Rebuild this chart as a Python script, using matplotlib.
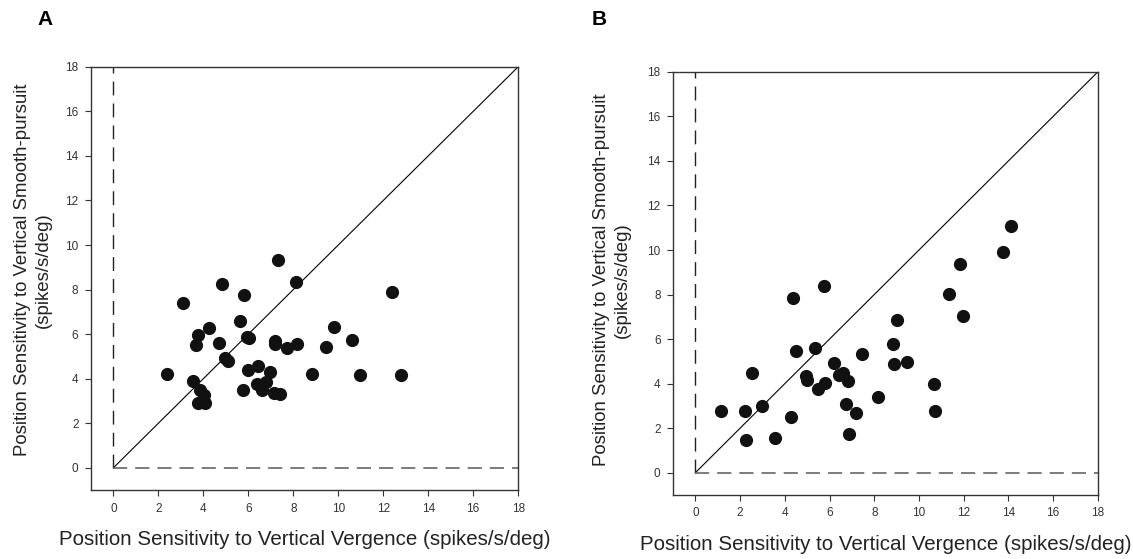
import matplotlib.pyplot as plt

plt.rcParams['font.family'] = ['Liberation Sans', 'DejaVu Sans']

# Panel A: vergence vs smooth-pursuit position sensitivity (spikes/s/deg)
a_verg = [7.32, 4.82, 8.13, 12.37, 3.09, 5.79, 5.62, 4.26, 3.74, 3.67,
          4.69, 5.94, 6.05, 7.17, 7.20, 7.70, 8.15, 9.81, 9.47, 10.61,
          4.96, 5.09, 2.39, 3.56, 5.97, 6.45, 6.97, 8.83, 10.98, 12.79,
          6.38, 6.78, 6.60, 5.74, 3.86, 4.02, 7.12, 7.39, 3.74, 4.09]
a_pursuit = [9.31, 8.27, 8.34, 7.91, 7.40, 7.75, 6.57, 6.27, 5.96, 5.52,
             5.61, 5.87, 5.84, 5.69, 5.57, 5.39, 5.55, 6.32, 5.40, 5.73,
             4.92, 4.78, 4.21, 3.89, 4.39, 4.57, 4.30, 4.19, 4.16, 4.16,
             3.77, 3.83, 3.50, 3.47, 3.50, 3.26, 3.35, 3.29, 2.90, 2.89]

# Panel B
b_verg = [14.12, 13.75, 11.85, 11.35, 11.97, 5.75, 4.37, 9.02, 8.86, 8.89,
          9.45, 4.50, 5.33, 7.45, 6.19, 2.55, 4.96, 4.98, 5.78, 5.50,
          6.41, 6.58, 6.83, 10.65, 8.15, 6.73, 7.17, 10.71, 1.16, 2.22,
          2.98, 4.28, 2.27, 3.57, 6.86]
b_pursuit = [11.09, 9.89, 9.37, 8.01, 7.03, 8.38, 7.86, 6.84, 5.79, 4.90,
             4.98, 5.47, 5.62, 5.31, 4.93, 4.47, 4.35, 4.17, 4.05, 3.74,
             4.40, 4.47, 4.13, 3.98, 3.41, 3.09, 2.70, 2.76, 2.78, 2.78,
             3.00, 2.49, 1.47, 1.55, 1.74]

ticks = list(range(0, 19, 2))
xlab = 'Position Sensitivity to Vertical Vergence (spikes/s/deg)'
ylab = 'Position Sensitivity to Vertical Smooth-pursuit\n(spikes/s/deg)'

fig = plt.figure(figsize=(11.33, 5.59), dpi=100)
axA = fig.add_axes([0.0803, 0.1234, 0.377, 0.757])
axB = fig.add_axes([0.594, 0.1145, 0.375, 0.757])

panels = [
    (axA, a_verg, a_pursuit, (-0.136, 0.52), (0.50, -0.116)),
    (axB, b_verg, b_pursuit, (-0.144, 0.508), (0.501, -0.118)),
]

for ax, xs, ys, ylc, xlc in panels:
    ax.plot([0, 18], [0, 18], color='black', lw=0.8)
    ax.plot([0, 0], [0, 18], color='#222222', lw=1, dashes=(10, 5.8))
    ax.plot([0, 18], [0, 0], color='#666666', lw=1.2, dashes=(8.5, 4.8))
    ax.scatter(xs, ys, s=72, color='#111111', zorder=3)
    ax.set_xlim(-1, 18)
    ax.set_ylim(-1, 18)
    ax.set_xticks(ticks)
    ax.set_yticks(ticks)
    ax.tick_params(direction='out', length=4, width=0.8, labelsize=8.5,
                   labelcolor='#333333', pad=5, color='#333333')
    for sp in ax.spines.values():
        sp.set_color('#333333')
        sp.set_linewidth(1)
    ax.set_xlabel(xlab, fontsize=14.75, color='#222222')
    ax.xaxis.set_label_coords(*xlc)
    ax.xaxis.label.set_va('center')
    ax.set_ylabel(ylab, fontsize=13.4, color='#222222', linespacing=1.3)
    ax.yaxis.set_label_coords(*ylc)
    ax.yaxis.label.set_va('center')
    ax.yaxis.label.set_ha('center')
    ax.yaxis.label.set_rotation_mode('default')

fig.text(0.040, 0.966, 'A', fontsize=15, fontweight='bold', va='center', ha='center')
fig.text(0.529, 0.966, 'B', fontsize=15, fontweight='bold', va='center', ha='center')

fig.savefig('out.png', dpi=100)
